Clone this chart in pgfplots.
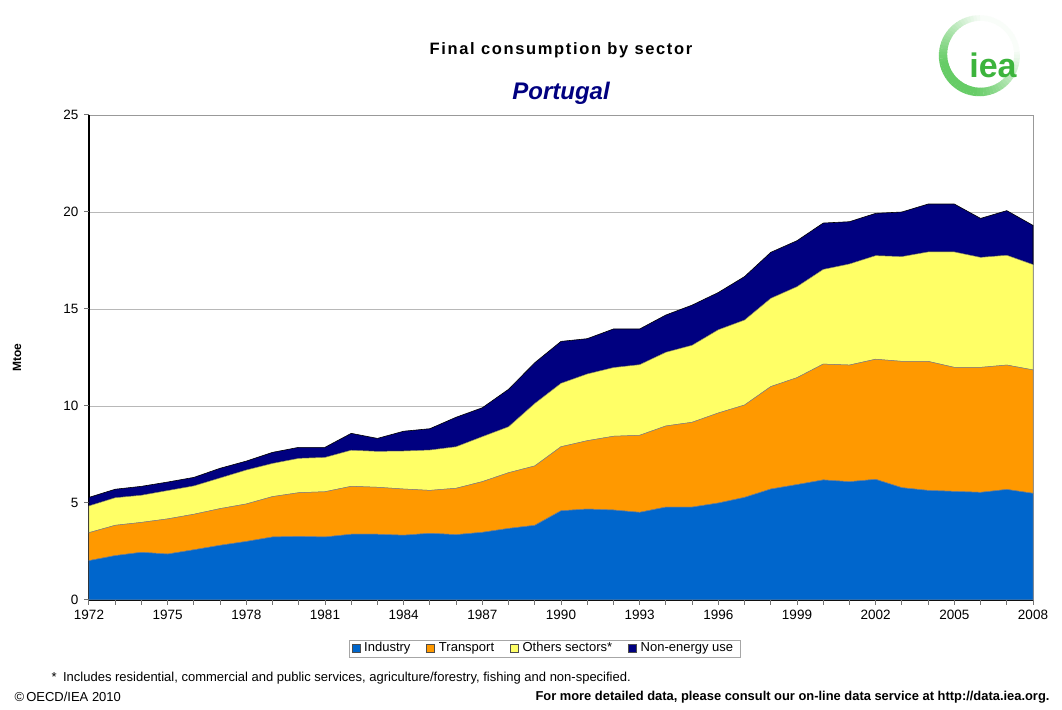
\documentclass[border=0pt]{standalone}
\usepackage{pgfplots}
\pgfplotsset{compat=1.18}
\usepackage{pgfplotstable}
\usepackage{fontspec}
\setmainfont{Liberation Sans}
\definecolor{cInd}{HTML}{0066CC}
\definecolor{cTra}{HTML}{FF9900}
\definecolor{cOth}{HTML}{FFFF66}
\definecolor{cNon}{HTML}{000080}
\definecolor{ieagreen}{HTML}{3CB43C}
\definecolor{ringgreen}{HTML}{66CC66}
\pgfplotstableread{
year ind trans oth non
1972 2.03 1.44 1.38 0.44
1973 2.29 1.56 1.42 0.44
1974 2.46 1.54 1.40 0.46
1975 2.37 1.81 1.46 0.44
1976 2.59 1.83 1.46 0.44
1977 2.82 1.89 1.58 0.50
1978 3.02 1.93 1.75 0.46
1979 3.25 2.08 1.71 0.57
1980 3.28 2.25 1.77 0.57
1981 3.25 2.33 1.77 0.52
1982 3.39 2.47 1.86 0.87
1983 3.39 2.42 1.85 0.67
1984 3.34 2.38 1.96 1.02
1985 3.44 2.21 2.08 1.10
1986 3.37 2.39 2.14 1.52
1987 3.49 2.61 2.32 1.49
1988 3.69 2.87 2.37 1.93
1989 3.85 3.06 3.22 2.10
1990 4.60 3.30 3.27 2.16
1991 4.69 3.52 3.44 1.82
1992 4.64 3.80 3.54 1.99
1993 4.52 3.97 3.64 1.84
1994 4.79 4.18 3.80 1.92
1995 4.79 4.37 3.97 2.07
1996 5.00 4.64 4.29 1.92
1997 5.29 4.76 4.38 2.24
1998 5.72 5.28 4.55 2.37
1999 5.95 5.51 4.69 2.37
2000 6.19 5.97 4.88 2.39
2001 6.10 6.01 5.21 2.18
2002 6.22 6.19 5.34 2.18
2003 5.79 6.51 5.40 2.30
2004 5.65 6.65 5.64 2.47
2005 5.60 6.39 5.95 2.47
2006 5.55 6.44 5.67 2.01
2007 5.70 6.41 5.66 2.30
2008 5.50 6.36 5.43 2.02
}\data
\begin{document}
\begin{tikzpicture}[x=1pt,y=1pt]
\useasboundingbox (0,0) rectangle (1062,709);
\fill[white] (0,0) rectangle (1062,709);
% logo
\foreach \a in {0,...,71}{
  \pgfmathsetmacro\ang{\a*5}
  \pgfmathsetmacro\mix{max(4,min(100,50+60*cos(\ang-225)))}
  \pgfmathsetmacro\lw{5+4*(1+cos(\ang-225))/2}
  \draw[line width=\lw pt, color=ringgreen!\mix!white] ([shift={(\ang:37)}]980,654) arc (\ang:\ang+5.6:37);
}
\node[font=\bfseries\fontsize{34}{36}\selectfont, text=ieagreen, inner sep=0pt] at (993,644) {iea};
\node[font=\bfseries\fontsize{16.5}{18}\selectfont\addfontfeatures{LetterSpace=10}] at (561,659) {Final consumption by sector};
\node[font=\bfseries\itshape\fontsize{24}{26}\selectfont, text=cNon] at (561,616) {Portugal};
\begin{axis}[
  at={(89pt,109pt)}, anchor=south west,
  width=944pt, height=485pt, scale only axis,
  xmin=1972, xmax=2008, ymin=0, ymax=25,
  clip=false,
  stack plots=y,
  axis line style={draw=black!40, line width=0.8pt},
  xtick={1972,1975,...,2008},
  ytick={0,5,...,25},
  xtick pos=left, ytick pos=left,
  ymajorgrids, major grid style={draw=black!28, line width=0.8pt},
  major tick length=0pt,
  /pgf/number format/assume math mode=true,
  xticklabel style={/pgf/number format/1000 sep=},
  ticklabel style={font=\fontsize{13.5}{15}\selectfont},
  yticklabel style={xshift=-7pt},
  xticklabel style={yshift=-7pt},
  ylabel={Mtoe},
  ylabel style={font=\bfseries\fontsize{12}{14}\selectfont, at={(axis description cs:-0.068,0.5)}},
  legend style={at={(0.4825,-0.1)}, anchor=center, legend columns=4,
    draw=black!35, font=\fontsize{13}{15}\selectfont,
    nodes={text height=9.5pt, text depth=3pt, inner xsep=4pt},
    inner ysep=0pt,
    /tikz/every even column/.append style={column sep=12pt}},
  legend image code/.code={\draw[#1, draw=black!70, line width=0.5pt] (0pt,-3.5pt) rectangle (8pt,4pt);},
]
\addplot[fill=cInd, draw=black!50, line width=0.5pt] table[x=year,y=ind] {\data} \closedcycle;
\addlegendentry{Industry}
\addplot[fill=cTra, draw=black!50, line width=0.5pt] table[x=year,y=trans] {\data} \closedcycle;
\addlegendentry{Transport}
\addplot[fill=cOth, draw=black!50, line width=0.5pt] table[x=year,y=oth] {\data} \closedcycle;
\addlegendentry{Others sectors*}
\addplot[fill=cNon, draw=black, line width=0.6pt] table[x=year,y=non] {\data} \closedcycle;
\addlegendentry{Non-energy use}
\draw[black!40, line width=0.8pt] (rel axis cs:1,0) -- (rel axis cs:1,1);
\pgfplotsinvokeforeach{1972,...,2008}{\draw[black!55, line width=1pt] (axis cs:#1,0) -- ++(0pt,-5pt);}
\pgfplotsinvokeforeach{0,5,...,25}{\draw[black!55, line width=1pt] (axis cs:1972,#1) -- ++(-5pt,0pt);}
\draw[black, line width=1.1pt] (rel axis cs:0,1) -- (rel axis cs:0,0) -- (rel axis cs:1,0);
\end{axis}
\node[anchor=west, font=\fontsize{13}{14}\selectfont] at (48,31) {*\enspace Includes residential, commercial and public services, agriculture/forestry, fishing and non-specified.};
\node[anchor=west, font=\fontsize{13}{14}\selectfont] at (11,12) {\textcopyright\,OECD/IEA 2010};
\node[anchor=east, font=\bfseries\fontsize{12.9}{14}\selectfont] at (1053,12) {For more detailed data, please consult our on-line data service at http://data.iea.org.};
\end{tikzpicture}
\end{document}
